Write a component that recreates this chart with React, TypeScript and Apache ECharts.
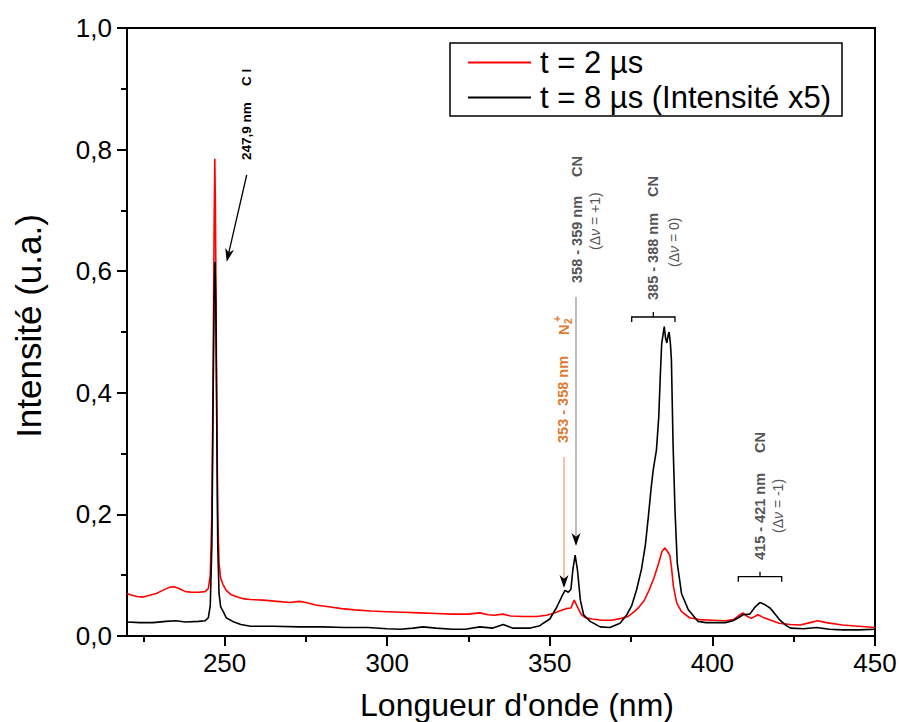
import React, { useEffect, useRef } from 'react';
import * as echarts from 'echarts';

// t = 2 µs (red)
const RED_X = [220, 221, 223, 225, 227, 229, 231, 233, 234.5, 236, 238, 240, 242, 244, 245, 245.6, 246.1, 246.5, 246.8, 247.0, 247.2, 247.5, 247.9, 248.3, 248.8, 249.5, 250.5, 252, 254, 256, 258, 262, 266, 270, 273, 275, 278, 282, 286, 290, 295, 300, 305, 310, 315, 320, 325, 328.5, 331, 333, 335.5, 338, 342, 346, 349, 351, 353, 355, 356.5, 357.5, 358.5, 359.7, 361, 363, 366, 369, 372, 374, 376, 377.5, 379, 380.5, 382, 383.5, 384.5, 385.4, 386.2, 386.9, 387.4, 388, 389, 390.5, 393, 396, 400, 404, 406.5, 408.5, 409.4, 410.5, 412, 414, 415.5, 418, 420.5, 424, 427, 430, 432.4, 435, 440, 445, 450];
const RED_Y = [0.070, 0.068, 0.065, 0.064, 0.067, 0.070, 0.075, 0.080, 0.081, 0.078, 0.073, 0.072, 0.072, 0.073, 0.078, 0.10, 0.20, 0.45, 0.68, 0.785, 0.70, 0.45, 0.20, 0.12, 0.095, 0.085, 0.075, 0.068, 0.064, 0.061, 0.060, 0.059, 0.057, 0.055, 0.057, 0.055, 0.051, 0.048, 0.045, 0.043, 0.041, 0.040, 0.039, 0.038, 0.037, 0.036, 0.036, 0.038, 0.035, 0.034, 0.036, 0.033, 0.032, 0.032, 0.034, 0.037, 0.041, 0.045, 0.046, 0.059, 0.048, 0.035, 0.030, 0.028, 0.026, 0.026, 0.029, 0.032, 0.040, 0.048, 0.058, 0.075, 0.095, 0.12, 0.139, 0.145, 0.139, 0.133, 0.114, 0.082, 0.055, 0.040, 0.030, 0.027, 0.026, 0.025, 0.027, 0.035, 0.038, 0.033, 0.029, 0.035, 0.031, 0.026, 0.021, 0.019, 0.018, 0.022, 0.025, 0.022, 0.018, 0.016, 0.014];

// t = 8 µs (black, intensity x5)
const BLACK_X = [220, 224, 228, 232, 235, 238, 242, 244, 245, 245.6, 246.1, 246.5, 246.8, 247.05, 247.3, 247.6, 247.9, 248.3, 248.8, 249.6, 250.5, 252.5, 255, 258, 265, 273, 280, 287, 294, 300, 304, 308, 311, 315, 320, 324, 328.5, 332.5, 335.7, 338.5, 344, 347, 348, 350, 352, 353.7, 354.7, 355.7, 356.5, 357.1, 357.8, 358.5, 359.4, 360.4, 362.4, 365.5, 368.5, 371.6, 373.7, 375.2, 376.7, 378.2, 379.4, 380.3, 381.2, 381.8, 382.8, 383.5, 384.0, 384.4, 384.8, 385.2, 385.6, 386.0, 386.4, 386.7, 387.1, 387.4, 387.9, 388.5, 389.2, 390.5, 392.6, 395.6, 398, 401.3, 404, 406.3, 408, 409.4, 411.5, 413, 414.6, 416, 417.7, 419, 420.8, 422.5, 424, 428, 432, 436, 440, 445, 450];
const BLACK_Y = [0.023, 0.022, 0.022, 0.024, 0.025, 0.023, 0.024, 0.025, 0.030, 0.05, 0.15, 0.40, 0.56, 0.615, 0.55, 0.35, 0.15, 0.07, 0.048, 0.040, 0.030, 0.024, 0.019, 0.016, 0.016, 0.015, 0.015, 0.014, 0.014, 0.012, 0.011, 0.013, 0.015, 0.013, 0.011, 0.011, 0.015, 0.013, 0.019, 0.013, 0.013, 0.017, 0.021, 0.028, 0.046, 0.065, 0.075, 0.072, 0.077, 0.109, 0.133, 0.109, 0.059, 0.035, 0.024, 0.015, 0.014, 0.021, 0.035, 0.050, 0.076, 0.11, 0.150, 0.196, 0.245, 0.273, 0.306, 0.36, 0.43, 0.48, 0.495, 0.509, 0.49, 0.482, 0.495, 0.50, 0.48, 0.454, 0.317, 0.207, 0.12, 0.070, 0.043, 0.024, 0.022, 0.022, 0.022, 0.025, 0.030, 0.035, 0.036, 0.047, 0.055, 0.052, 0.046, 0.038, 0.026, 0.018, 0.013, 0.012, 0.014, 0.011, 0.010, 0.010, 0.011];

const SERIES_NAMES = ['t = 2 µs', 't = 8 µs (Intensité x5)'];
const X_MAJOR_TICKS = [250, 300, 350, 400, 450];
const X_MINOR_TICKS = [225, 275, 325, 375, 425];
const X_TITLE = "Longueur d'onde (nm)";
const Y_TITLE = 'Intensité (u.a.)';

const FONT = '"Liberation Sans", Arial, Helvetica, sans-serif';
const GRAY = '#555555';
const ORANGE = '#E07A2E';
const ORANGE_LINE = '#E8A57A';

function zip(xs: number[], ys: number[]) {
  return xs.map((x, i) => [x, ys[i]]);
}

function arrow(x1: number, y1: number, x2: number, y2: number, lineColor: string, len = 13, half = 4.5) {
  const dx = x2 - x1, dy = y2 - y1;
  const L = Math.hypot(dx, dy);
  const ux = dx / L, uy = dy / L;
  const px = -uy, py = ux;
  const bx = x2 - ux * len, by = y2 - uy * len;
  const nx = x2 - ux * len * 0.72, ny = y2 - uy * len * 0.72;
  return [
    { type: 'line', silent: true, shape: { x1, y1, x2: nx, y2: ny }, style: { stroke: lineColor, lineWidth: 1.3 } },
    {
      type: 'polygon', silent: true,
      shape: { points: [[x2, y2], [bx + px * half, by + py * half], [nx, ny], [bx - px * half, by - py * half]] },
      style: { fill: '#000' },
    },
  ];
}

function vtext(text: string, x: number, y: number, size: number, color: string, bold = true) {
  return {
    type: 'text', silent: true, x, y, rotation: Math.PI / 2,
    style: { text, fontSize: size, fontWeight: bold ? 'bold' : 'normal', fontFamily: FONT, fill: color, align: 'left', verticalAlign: 'middle' },
  };
}

function vdelta(tail: string, x: number, y: number) {
  return {
    type: 'text', silent: true, x, y, rotation: Math.PI / 2,
    style: {
      text: '{a|(Δ}{i|ν}{a|' + tail + ')}',
      align: 'left', verticalAlign: 'middle',
      rich: {
        a: { fontSize: 14, fontFamily: FONT, fill: GRAY },
        i: { fontSize: 14, fontFamily: FONT, fill: GRAY, fontStyle: 'italic' },
      },
    },
  };
}

function bracket(xl: number, xr: number, y: number) {
  const xc = (xl + xr) / 2;
  return [
    { type: 'polyline', silent: true, shape: { points: [[xl, y + 5], [xl, y], [xr, y], [xr, y + 5]] }, style: { stroke: '#000', lineWidth: 1.3, fill: null } },
    { type: 'line', silent: true, shape: { x1: xc, y1: y, x2: xc, y2: y - 5 }, style: { stroke: '#000', lineWidth: 1.3 } },
  ];
}

export default function App() {
  const ref = useRef<HTMLDivElement>(null);
  useEffect(() => {
    if (!ref.current) return;
    const chart = echarts.init(ref.current, null, { renderer: 'svg' });
    const axisLine = { show: true, lineStyle: { color: '#000', width: 2 } };
    const graphics: any[] = [
      // legend box
      { type: 'rect', silent: true, shape: { x: 450, y: 43, width: 392, height: 73 }, style: { fill: 'none', stroke: '#000', lineWidth: 1.5 } },
      // axis titles
      { type: 'text', silent: true, x: 28, y: 326, rotation: Math.PI / 2, style: { text: Y_TITLE, fontSize: 35, fontFamily: FONT, fill: '#000', align: 'center', verticalAlign: 'middle' } },
      { type: 'text', silent: true, x: 517, y: 705, style: { text: X_TITLE, fontSize: 32, fontFamily: FONT, fill: '#000', align: 'center', verticalAlign: 'middle' } },
      // C I
      vtext('247,9 nm', 246, 160, 13.5, '#000'),
      vtext('C I', 246, 86, 13.5, '#000'),
      ...arrow(246.7, 175, 226.7, 261.7, '#000'),
      // CN +1
      vtext('358 - 359 nm', 577, 283, 14.5, GRAY),
      vtext('CN', 577, 177, 14.5, GRAY),
      vdelta(' = +1', 595, 250),
      ...arrow(576, 297, 576, 546, '#999999'),
      // N2+
      vtext('353 - 358 nm', 562.5, 443, 14.5, ORANGE),
      vtext('N', 563.5, 335, 14.5, ORANGE),
      vtext('2', 568.5, 324, 10, ORANGE),
      vtext('+', 557, 322, 11, ORANGE),
      ...arrow(564, 457, 564, 588, ORANGE_LINE),
      // CN 0
      vtext('385 - 388 nm', 652.5, 300, 14.5, GRAY),
      vtext('CN', 652.5, 197, 14.5, GRAY),
      vdelta(' = 0', 674, 267),
      ...bracket(631.7, 675, 317),
      // CN -1
      vtext('415 - 421 nm', 760, 560, 14.5, GRAY),
      vtext('CN', 760, 453, 14.5, GRAY),
      vdelta(' = -1', 777.5, 533),
      ...bracket(738.3, 781.7, 576.7),
    ];
    chart.setOption({
      animation: false,
      backgroundColor: '#fff',
      grid: { left: 127, right: 25, top: 28, bottom: 86, show: true, borderColor: '#000', borderWidth: 2, backgroundColor: 'transparent' },
      legend: {
        orient: 'vertical', left: 468, top: 45, padding: 0, itemGap: 0,
        itemWidth: 63, itemHeight: 2, icon: 'rect',
        textStyle: { fontSize: 31, fontFamily: FONT, color: '#000', lineHeight: 35, padding: [0, 0, 0, 4] },
        data: SERIES_NAMES,
      },
      xAxis: [
        {
          type: 'value', min: 220, max: 450, position: 'bottom',
          axisLine, splitLine: { show: false },
          axisTick: { show: true, length: 10, lineStyle: { color: '#000', width: 2 }, customValues: X_MAJOR_TICKS },
          axisLabel: { show: true, margin: 14, fontSize: 26, fontFamily: FONT, color: '#000', customValues: X_MAJOR_TICKS },
        },
        {
          type: 'value', min: 220, max: 450, position: 'bottom',
          axisLine: { show: false }, splitLine: { show: false },
          axisTick: { show: true, length: 6, lineStyle: { color: '#000', width: 2 }, customValues: X_MINOR_TICKS },
          axisLabel: { show: false },
        },
      ],
      yAxis: {
        type: 'value', min: 0, max: 1, interval: 0.2,
        axisLine, splitLine: { show: false },
        axisTick: { show: true, length: 10, lineStyle: { color: '#000', width: 2 } },
        minorTick: { show: true, splitNumber: 2, length: 6, lineStyle: { color: '#000', width: 2 } },
        axisLabel: {
          margin: 15, fontSize: 26, fontFamily: FONT, color: '#000',
          formatter: (v: number) => v.toFixed(1).replace('.', ','),
        },
      },
      series: [
        {
          name: SERIES_NAMES[0], type: 'line', xAxisIndex: 0, showSymbol: false, symbol: 'none',
          lineStyle: { color: '#FF0000', width: 1.6 }, itemStyle: { color: '#FF0000' },
          data: zip(RED_X, RED_Y),
        },
        {
          name: SERIES_NAMES[1], type: 'line', xAxisIndex: 0, showSymbol: false, symbol: 'none',
          lineStyle: { color: '#000', width: 1.6 }, itemStyle: { color: '#000' },
          data: zip(BLACK_X, BLACK_Y),
        },
      ],
      graphic: graphics,
    });
    return () => chart.dispose();
  }, []);
  return <div ref={ref} style={{ position: 'fixed', left: 0, top: 0, width: 900, height: 722, background: '#fff' }} />;
}
